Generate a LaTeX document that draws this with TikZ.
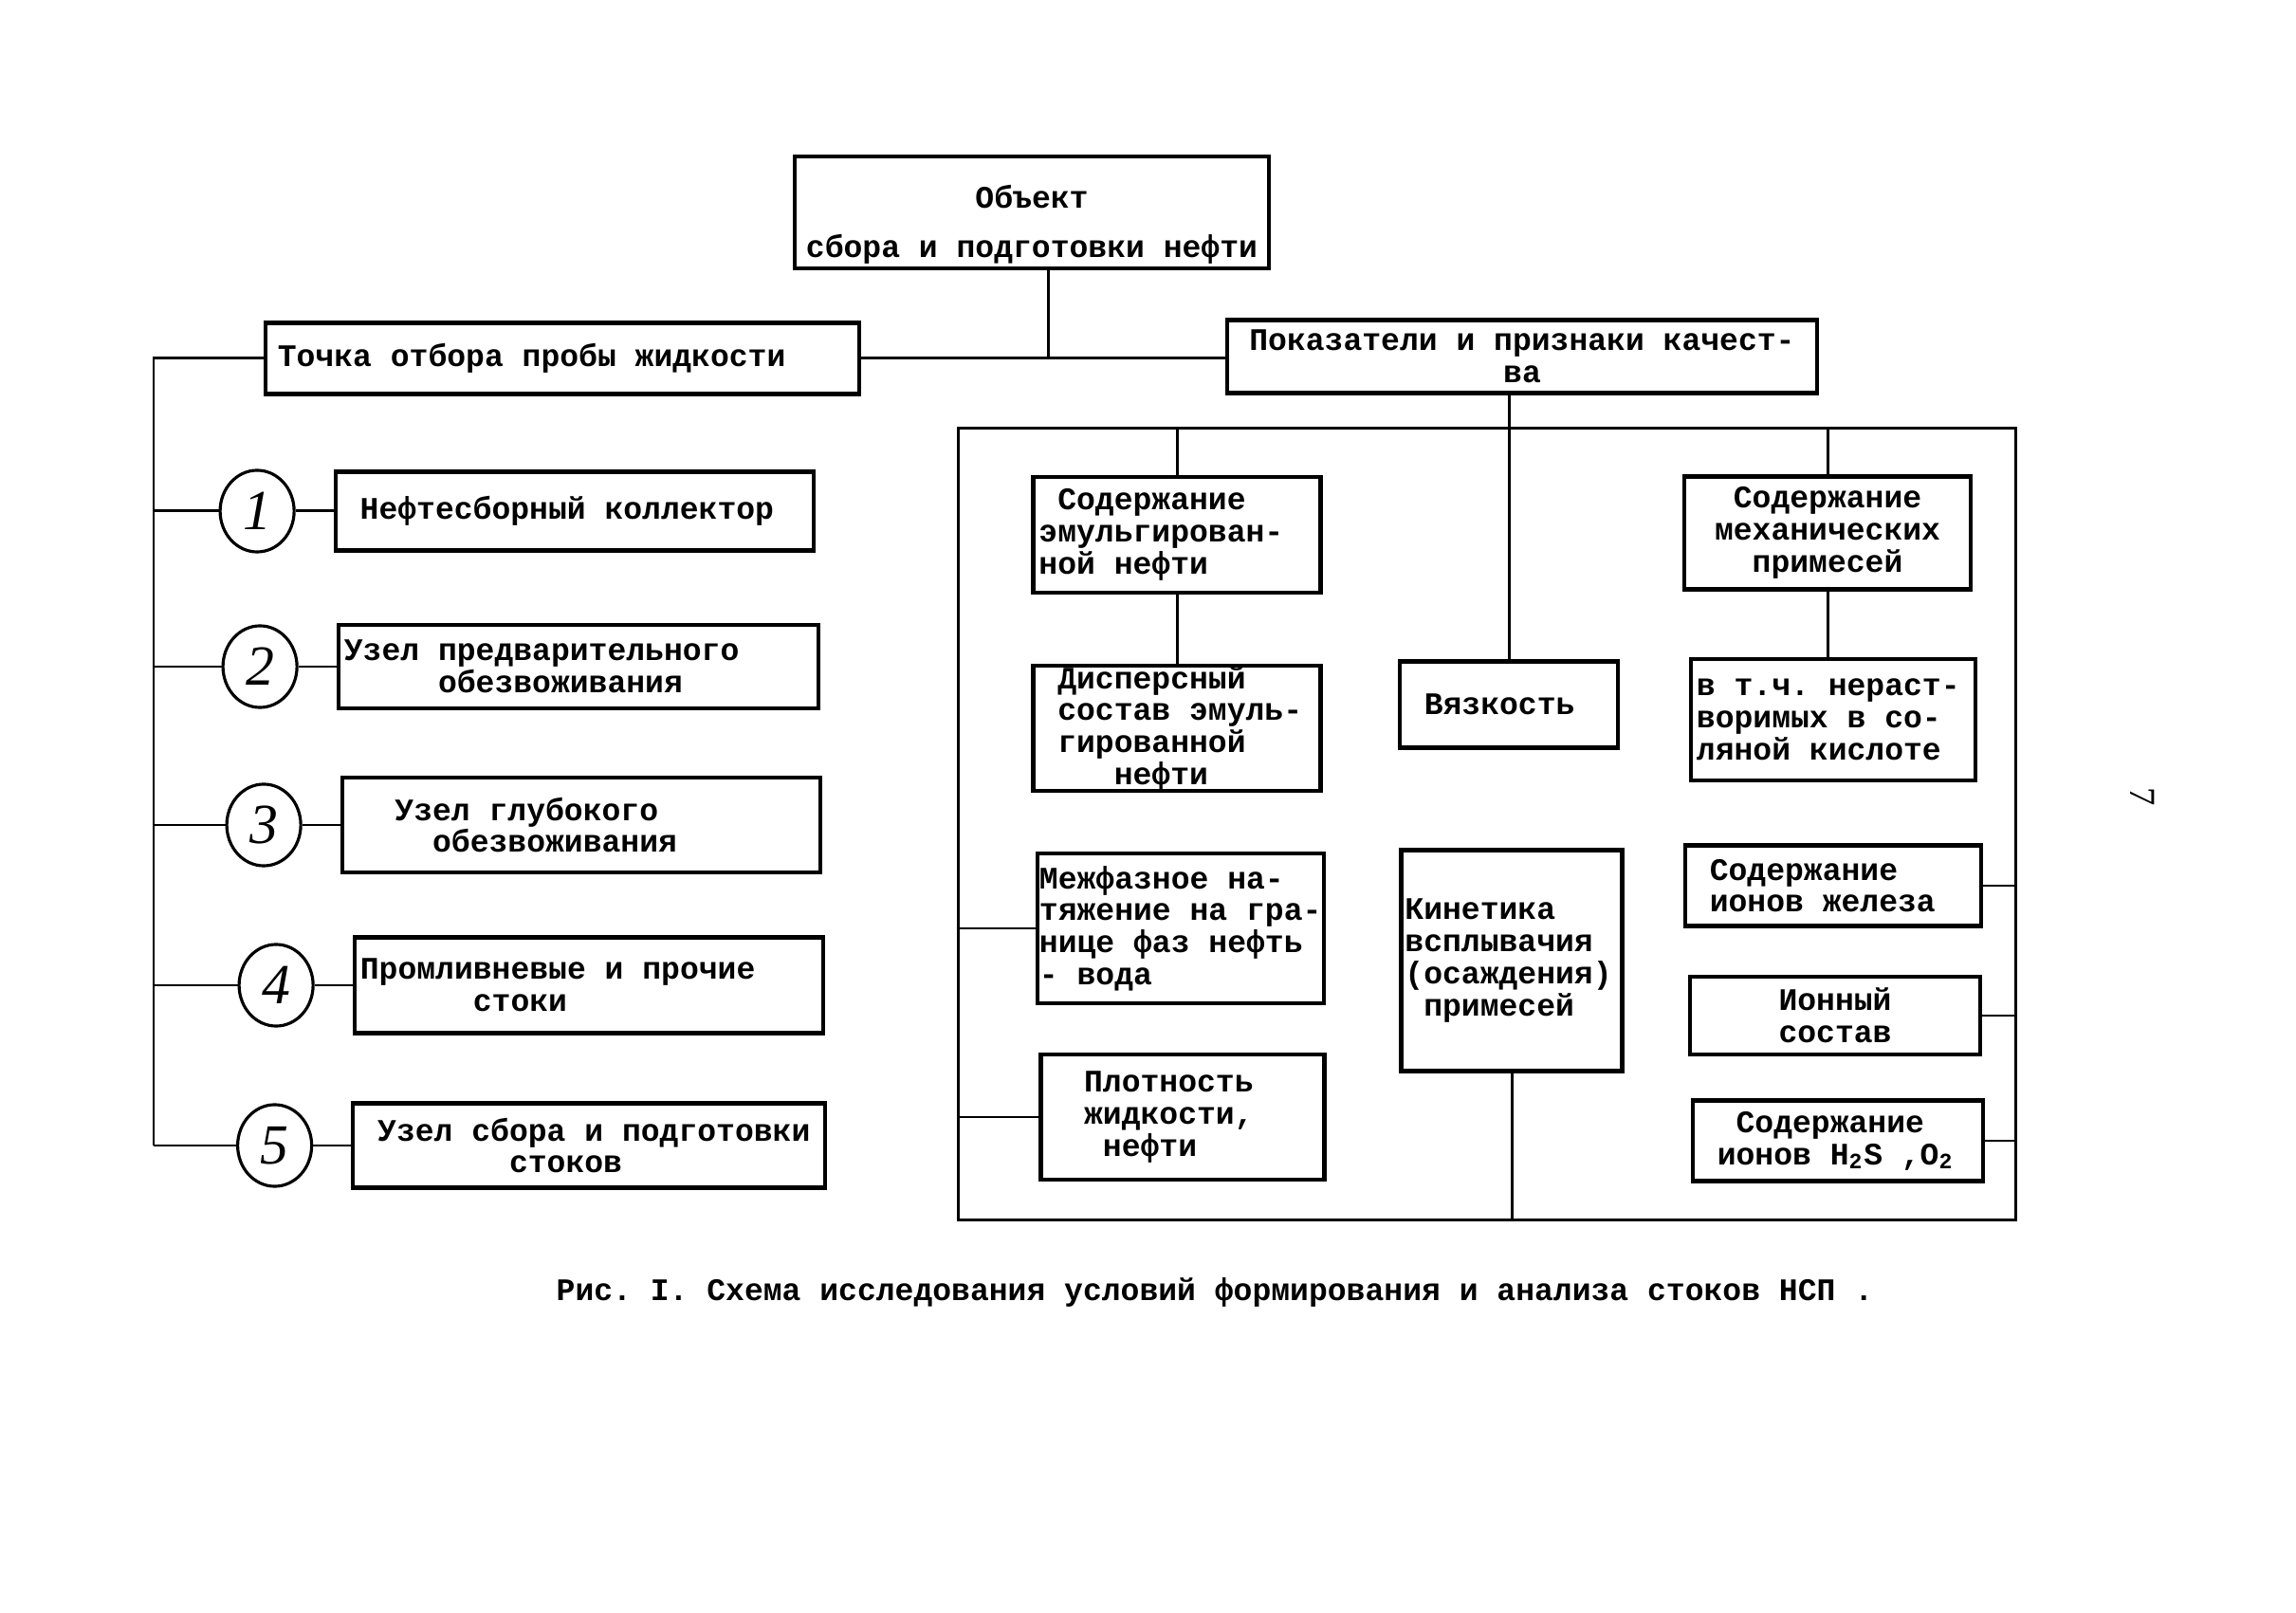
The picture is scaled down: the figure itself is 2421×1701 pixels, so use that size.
\documentclass[tikz,border=0pt]{standalone}
\usepackage{fontspec}
\setmainfont{Liberation Serif}
\setmonofont{Liberation Mono}
\usepackage{tikz}
\usetikzlibrary{shapes.geometric, positioning}

\newcommand{\typewr}{\ttfamily\bfseries\fontsize{9.4}{9.6}\selectfont\spaceskip=5.64pt\xspaceskip=5.64pt\relax}

\begin{document}
\begin{tikzpicture}[
  x=0.01cm, y=-0.01cm,
  box/.style={rectangle, draw=black, line width=1.2pt, inner xsep=0.06cm, inner ysep=0pt, align=flush left, font=\typewr},
  numcirc/.style={ellipse, draw=black, line width=0.9pt, minimum width=0.78cm, minimum height=0.86cm, inner sep=0pt, font=\itshape\fontsize{17}{17}\selectfont},
  wire/.style={line width=0.85pt},
  captiontext/.style={font=\typewr}
]
\useasboundingbox (0,0) rectangle (2421,1701);

% Top level
\node (obj) [box, align=center, minimum width=4.99cm, minimum height=1.18cm] at (1088,224) {\rule{0pt}{0.5cm}Объект\\[0.18cm]сбора и подготовки нефти};
\node (point) [box, text width=6.0cm, minimum width=6.26cm, minimum height=0.75cm] at (593,378) {Точка отбора пробы жидкости};
\node (quality) [box, align=center, minimum width=6.21cm, minimum height=0.77cm] at (1605,376) {Показатели и признаки качест-\\ва};
\coordinate (join) at (1105,378);

% Sampling points
\node (s1) [box, text width=4.92cm, minimum width=5.04cm, minimum height=0.83cm] at (606,539) {~Нефтесборный коллектор};
\node (s2) [box, text width=4.94cm, minimum width=5.06cm, minimum height=0.88cm] at (610,703) {Узел предварительного\\~~~~~обезвоживания};
\node (s3) [box, text width=4.92cm, minimum width=5.04cm, minimum height=1.00cm] at (613,870) {\hspace*{1.5em}Узел глубокого\\\hspace*{2.7em}обезвоживания};
\node (s4) [box, text width=4.82cm, minimum width=4.94cm, minimum height=1.01cm] at (621,1039) {Промливневые и прочие\\~~~~~~стоки};
\node (s5) [box, text width=4.85cm, minimum width=4.97cm, minimum height=0.89cm] at (621,1208) {~Узел сбора и подготовки\\~~~~~~~~стоков};

\node (n1) [numcirc, left=0.4cm of s1] {1};
\node (n2) [numcirc, left=0.4cm of s2] {2};
\node (n3) [numcirc, left=0.4cm of s3] {3};
\node (n4) [numcirc, left=0.4cm of s4] {4};
\node (n5) [numcirc, left=0.4cm of s5] {5};
\coordinate (busend) at (162,1208);

% Quality indicators
\node (frame) [draw=black, line width=0.9pt, minimum width=11.15cm, minimum height=8.34cm, inner sep=0pt] at (1568,869) {};

\node (emul) [box, text width=2.91cm, minimum width=3.03cm, minimum height=1.22cm] at (1241,564) {~Содержание\\эмульгирован-\\ной нефти};
\node (disp) [box, text width=2.91cm, minimum width=3.03cm, minimum height=1.26cm, below=0.73cm of emul] {~Дисперсный\\~состав эмуль-\\~гированной\\~~~~нефти};
\node (tension) [box, inner xsep=0.02cm, text width=2.98cm, minimum width=3.02cm, minimum height=1.58cm] at (1245,979) {Межфазное на-\\тяжение на гра-\\нице фаз нефть\\- вода};
\node (density) [box, text width=2.87cm, minimum width=2.99cm, minimum height=1.32cm] at (1247,1178) {~~Плотность\\~~жидкости,\\~~~нефти};

\node (visc) [box, text width=2.18cm, minimum width=2.30cm, minimum height=0.91cm] at (1591,743) {~Вязкость};
\node (kinet) [box, inner xsep=0.02cm, text width=2.25cm, minimum width=2.33cm, minimum height=2.33cm] at (1594,1013) {Кинетика\\всплывачия\\(осаждения)\\~примесей};

\node (mech) [box, align=center, minimum width=3.02cm, minimum height=1.19cm] at (1927,562) {Содержание\\механических\\примесей};
\node (insol) [box, text width=2.88cm, minimum width=3.00cm, minimum height=1.28cm] at (1933,759) {в т.ч. нераст-\\воримых в со-\\ляной кислоте};
\node (iron) [box, text width=3.00cm, minimum width=3.12cm, minimum height=0.85cm] at (1933,934) {~Содержание\\~ионов железа};
\node (ionic) [box, align=center, minimum width=3.06cm, minimum height=0.82cm] at (1935,1071) {Ионный\\состав};
\node (gas) [box, text width=2.94cm, minimum width=3.06cm, minimum height=0.85cm] at (1938,1203) {~~Содержание\\~ионов H\textsubscript{2}S ,O\textsubscript{2}};

% Caption
\node (capt) [captiontext] at (1281,1363) {Рис. I. Схема исследования условий формирования и анализа стоков НСП .};
\node (pagenum) [font=\fontsize{11}{11}\selectfont, rotate=-90] at (2259,840) {7};

% Connections
\draw [wire] (obj.south -| join) -- (join);
\draw [wire] (point.east) -- (point.east -| quality.west);
\draw [wire] (quality.south -| visc.north) -- (visc.north);
\draw [wire] (point.west) -| (busend);
\draw [wire] (n1.west) -- (n1.west -| busend);
\draw [wire] (n2.west) -- (n2.west -| busend);
\draw [wire] (n3.west) -- (n3.west -| busend);
\draw [wire] (n4.west) -- (n4.west -| busend);
\draw [wire] (n5.west) -- (busend);
\draw [wire] (n1) -- (s1);
\draw [wire] (n2) -- (s2);
\draw [wire] (n3) -- (s3);
\draw [wire] (n4) -- (s4);
\draw [wire] (n5) -- (s5);

\draw [wire] (emul.north) -- (emul.north |- frame.north);
\draw [wire] (emul) -- (disp);
\draw [wire] (mech.north) -- (mech.north |- frame.north);
\draw [wire] (mech.south) -- (mech.south |- insol.north);
\draw [wire] (tension.west -| frame.west) -- (tension.west);
\draw [wire] (density.west -| frame.west) -- (density.west);
\draw [wire] (iron.east) -- (iron.east -| frame.east);
\draw [wire] (ionic.east) -- (ionic.east -| frame.east);
\draw [wire] (gas.east) -- (gas.east -| frame.east);
\draw [wire] (kinet.south) -- (kinet.south |- frame.south);
\end{tikzpicture}
\end{document}
